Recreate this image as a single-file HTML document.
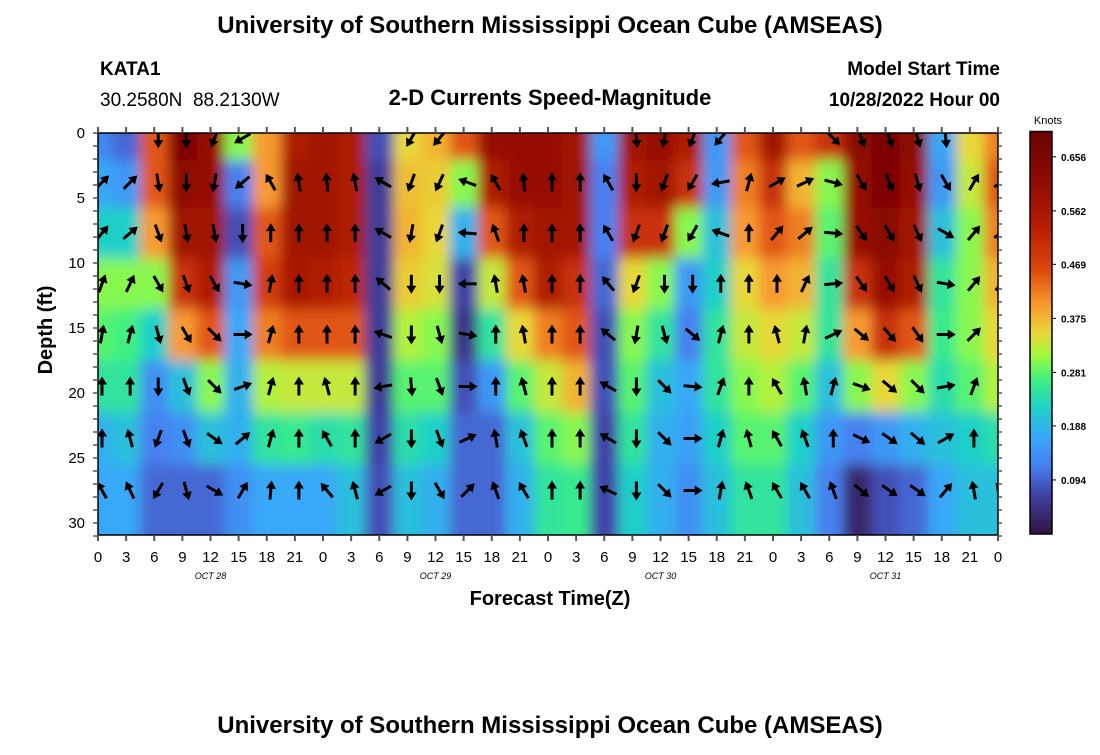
<!DOCTYPE html>
<html><head><meta charset="utf-8">
<style>
html,body{margin:0;padding:0;background:#fff;}
body{width:1100px;height:750px;overflow:hidden;font-family:"Liberation Sans",sans-serif;}
svg text{font-family:"Liberation Sans",sans-serif;}
</style></head>
<body>
<svg id="chart" width="1100" height="750" xmlns="http://www.w3.org/2000/svg">
<text x="550" y="33" text-anchor="middle" font-size="24" font-weight="bold">University of Southern Mississippi Ocean Cube (AMSEAS)</text>
<text x="100" y="75" font-size="19" font-weight="bold">KATA1</text>
<text x="100" y="106" font-size="19">30.2580N&#160;&#160;88.2130W</text>
<text x="550" y="105" text-anchor="middle" font-size="22" font-weight="bold">2-D Currents Speed-Magnitude</text>
<text x="1000" y="75" text-anchor="end" font-size="19" font-weight="bold">Model Start Time</text>
<text x="1000" y="106" text-anchor="end" font-size="19" font-weight="bold">10/28/2022 Hour 00</text>
<text x="550" y="733" text-anchor="middle" font-size="24" font-weight="bold">University of Southern Mississippi Ocean Cube (AMSEAS)</text>
<text transform="translate(52,330) rotate(-90)" text-anchor="middle" font-size="20" font-weight="bold">Depth (ft)</text>
<text x="550" y="605" text-anchor="middle" font-size="20" font-weight="bold">Forecast Time(Z)</text>
<text x="1048" y="124" text-anchor="middle" font-size="11">Knots</text>
<defs>
<clipPath id="plotclip"><rect x="98" y="133" width="900" height="402"/></clipPath>
<filter id="soft" x="-5%" y="-10%" width="110%" height="120%"><feGaussianBlur stdDeviation="6 7"/></filter>
</defs>
<g clip-path="url(#plotclip)"><g id="heat" filter="url(#soft)"></g></g>
<g id="arrows" clip-path="url(#plotclip)"></g>
<g id="axes"></g>
<g id="cbar"></g>
</svg>
<script>
const hours = [0,3,6,9,12,15,18,21,24,27,30,33,36,39,42,45,48,51,54,57,60,63,66,69,72,75,78,81,84,87,90,93,96];
const depths = [0.4,3.8,7.7,11.6,15.5,19.5,23.5,27.5];
const speed = [
[.13,.17,.22,.30,.28,.25,.18,.17],[.10,.15,.22,.30,.27,.25,.20,.17],[.45,.45,.40,.30,.22,.14,.12,.10],
[.66,.62,.58,.50,.40,.20,.14,.10],[.60,.60,.58,.55,.45,.30,.20,.10],[.30,.12,.08,.15,.17,.18,.18,.14],
[.40,.40,.45,.48,.42,.32,.25,.17],[.55,.58,.58,.56,.45,.33,.26,.17],[.58,.58,.58,.55,.45,.33,.24,.17],
[.55,.55,.55,.52,.45,.33,.25,.20],[.08,.06,.06,.06,.06,.06,.07,.08],[.35,.37,.38,.36,.32,.28,.24,.20],
[.38,.36,.35,.34,.30,.28,.22,.18],[.45,.30,.18,.07,.05,.08,.10,.10],[.60,.55,.45,.33,.25,.15,.10,.10],
[.60,.60,.55,.45,.35,.28,.20,.18],[.60,.60,.58,.55,.42,.33,.28,.25],[.58,.58,.57,.50,.45,.38,.30,.26],
[.15,.12,.12,.10,.08,.08,.07,.07],[.58,.55,.50,.35,.30,.28,.25,.22],[.60,.58,.50,.30,.25,.20,.18,.18],
[.55,.50,.30,.15,.12,.17,.16,.14],[.15,.15,.20,.22,.25,.25,.22,.20],[.45,.42,.40,.35,.33,.30,.28,.25],
[.58,.50,.45,.40,.35,.32,.28,.25],[.45,.38,.42,.38,.33,.28,.22,.20],[.50,.30,.28,.25,.25,.20,.15,.12],
[.62,.60,.60,.50,.40,.30,.12,.03],[.66,.66,.63,.60,.50,.35,.15,.08],[.62,.60,.58,.55,.45,.30,.18,.10],
[.17,.15,.20,.25,.26,.24,.20,.17],[.35,.33,.30,.30,.30,.28,.22,.20],[.42,.45,.42,.38,.35,.32,.24,.20]
];
const direction = [
[null,45,40,20,10,0,0,330],[null,45,50,25,15,0,345,335],[180,170,160,150,165,180,200,210],
[180,180,170,160,150,160,160,165],[200,190,170,150,135,135,125,120],[240,230,180,100,90,70,50,30],
[null,330,0,10,15,15,15,5],[null,350,0,0,0,0,0,0],[null,355,0,0,0,345,330,320],
[null,350,0,0,0,0,0,345],[null,300,300,310,290,260,240,240],[210,200,190,180,180,175,180,180],
[220,205,200,180,165,160,160,150],[null,290,275,270,100,90,65,45],[null,330,340,350,0,0,350,340],
[null,355,0,350,350,345,340,330],[null,0,0,0,0,0,0,0],[null,0,0,0,0,0,0,0],
[null,330,330,320,310,300,300,295],[175,180,200,200,190,180,180,180],[190,200,200,180,165,135,135,135],
[200,210,210,180,130,95,90,90],[220,260,290,0,15,20,15,10],[null,15,0,0,0,0,345,340],
[null,60,40,0,345,330,330,330],[null,65,50,25,10,350,340,330],[135,105,95,85,65,15,0,340],
[160,150,145,145,130,110,115,130],[160,160,150,150,140,130,125,125],[165,165,155,155,145,135,130,125],
[175,150,120,100,90,80,60,40],[null,30,40,40,45,20,0,350],[null,60,60,45,0,0,345,320]
];
const xTickLabels = ["0","3","6","9","12","15","18","21","0","3","6","9","12","15","18","21","0","3","6","9","12","15","18","21","0","3","6","9","12","15","18","21","0"];
const yTicks = [0,5,10,15,20,25,30];
const dateLabels = ["OCT 28","OCT 29","OCT 30","OCT 31"];
const dateHours = [12,36,60,84];
const cbarTicks = [0.094,0.188,0.281,0.375,0.469,0.562,0.656];

const NS="http://www.w3.org/2000/svg";
const X0=98,X1=998,Y0=133,Y1=535,VMAX=0.7;
const xs=t=>X0+t*(X1-X0)/96;
const ys=d=>Y0+d*13;
const cy=v=>534-v*575;
const stops=[[0,"#30123b"],[0.07,"#4143a8"],[0.12,"#4680f0"],[0.17,"#38a8f8"],[0.22,"#1fd0c8"],[0.27,"#40f080"],[0.31,"#a0fa40"],[0.35,"#e8d838"],[0.40,"#f89a30"],[0.46,"#dc4a0c"],[0.53,"#b82004"],[0.62,"#8c0a02"],[0.7,"#6a0302"]];
function hex(h){return [1,3,5].map(i=>parseInt(h.substr(i,2),16));}
function color(v){
  if(v<=stops[0][0])return stops[0][1];
  for(let i=1;i<stops.length;i++){if(v<=stops[i][0]){const a=stops[i-1],b=stops[i];const f=(v-a[0])/(b[0]-a[0]);const ca=hex(a[1]),cb=hex(b[1]);return "rgb("+ca.map((c,k)=>Math.round(c+(cb[k]-c)*f)).join(",")+")";}}
  return stops[stops.length-1][1];
}
function mk(tag,attrs,parent){const e=document.createElementNS(NS,tag);for(const k in attrs)e.setAttribute(k,attrs[k]);parent.appendChild(e);return e;}
const heat=document.getElementById('heat'),arr=document.getElementById('arrows'),axes=document.getElementById('axes'),cbar=document.getElementById('cbar');
const rb=[0];for(let i=1;i<depths.length;i++)rb.push((depths[i-1]+depths[i])/2);rb.push(31);
const last=hours.length-1;
hours.forEach((t,ci)=>{
  depths.forEach((d,ri)=>{
    let x0=xs(t-1.5),x1=xs(t+1.5)+0.5,y0=ys(rb[ri]),y1=ys(rb[ri+1])+0.5;
    if(ci===0)x0-=30; if(ci===last)x1+=30;
    if(ri===0)y0-=30; if(ri===depths.length-1)y1+=30;
    const r=mk('rect',{x:x0,y:y0,width:x1-x0,height:y1-y0,fill:color(speed[ci][ri])},heat);
    
    
    const a=direction[ci][ri];
    if(a!==null){
      const g=mk('g',{transform:`translate(${xs(t)+4},${ys(d)}) rotate(${a})`},arr);
      
      
      mk('line',{x1:0,y1:9,x2:0,y2:-3,stroke:'#000','stroke-width':3},g);
      mk('polygon',{points:'0,-10 -5,-2 5,-2',fill:'#000'},g);
    }
  });
});
mk('rect',{x:X0,y:Y0,width:X1-X0,height:Y1-Y0,fill:'none',stroke:'#000','stroke-width':1.5},axes);
for(let d=0;d<=31;d++){
  mk('line',{x1:X0-5,y1:ys(d),x2:X0,y2:ys(d),stroke:'#555','stroke-width':1.5},axes);
  mk('line',{x1:X1,y1:ys(d),x2:X1+4,y2:ys(d),stroke:'#555','stroke-width':1.5},axes);
}
hours.forEach((t,i)=>{
  mk('line',{x1:xs(t),y1:Y0-6,x2:xs(t),y2:Y0,stroke:'#555','stroke-width':2},axes);
  mk('line',{x1:xs(t),y1:Y1,x2:xs(t),y2:Y1+6,stroke:'#555','stroke-width':2},axes);
  const tx=mk('text',{x:xs(t),y:562,'text-anchor':'middle','font-size':15},axes);tx.textContent=xTickLabels[i];
  
  
});
yTicks.forEach(d=>{
  const tx=mk('text',{x:85,y:ys(d)+5,'text-anchor':'end','font-size':15},axes);tx.textContent=d;
  
  
});
dateLabels.forEach((s,i)=>{
  const tx=mk('text',{x:xs(dateHours[i]),y:579,'text-anchor':'middle','font-size':9,'font-style':'italic','font-family':'Liberation Mono, monospace'},axes);tx.textContent=s;
  
  
});
for(let i=0;i<200;i++){
  const v0=i*VMAX/200,v1=(i+1)*VMAX/200;
  mk('rect',{x:1030,y:cy(v1),width:22,height:cy(v0)-cy(v1)+0.5,fill:color((v0+v1)/2)},cbar);
}
mk('rect',{x:1030,y:cy(VMAX),width:22,height:cy(0)-cy(VMAX),fill:'none',stroke:'#000','stroke-width':1.5},cbar);
cbarTicks.forEach(v=>{
  mk('line',{x1:1052,y1:cy(v),x2:1056,y2:cy(v),stroke:'#000'},cbar);
  const tx=mk('text',{x:1061,y:cy(v)+4,'font-size':10,'font-weight':'bold'},cbar);tx.textContent=v.toFixed(3);
  
  
});
</script>
</body></html>
